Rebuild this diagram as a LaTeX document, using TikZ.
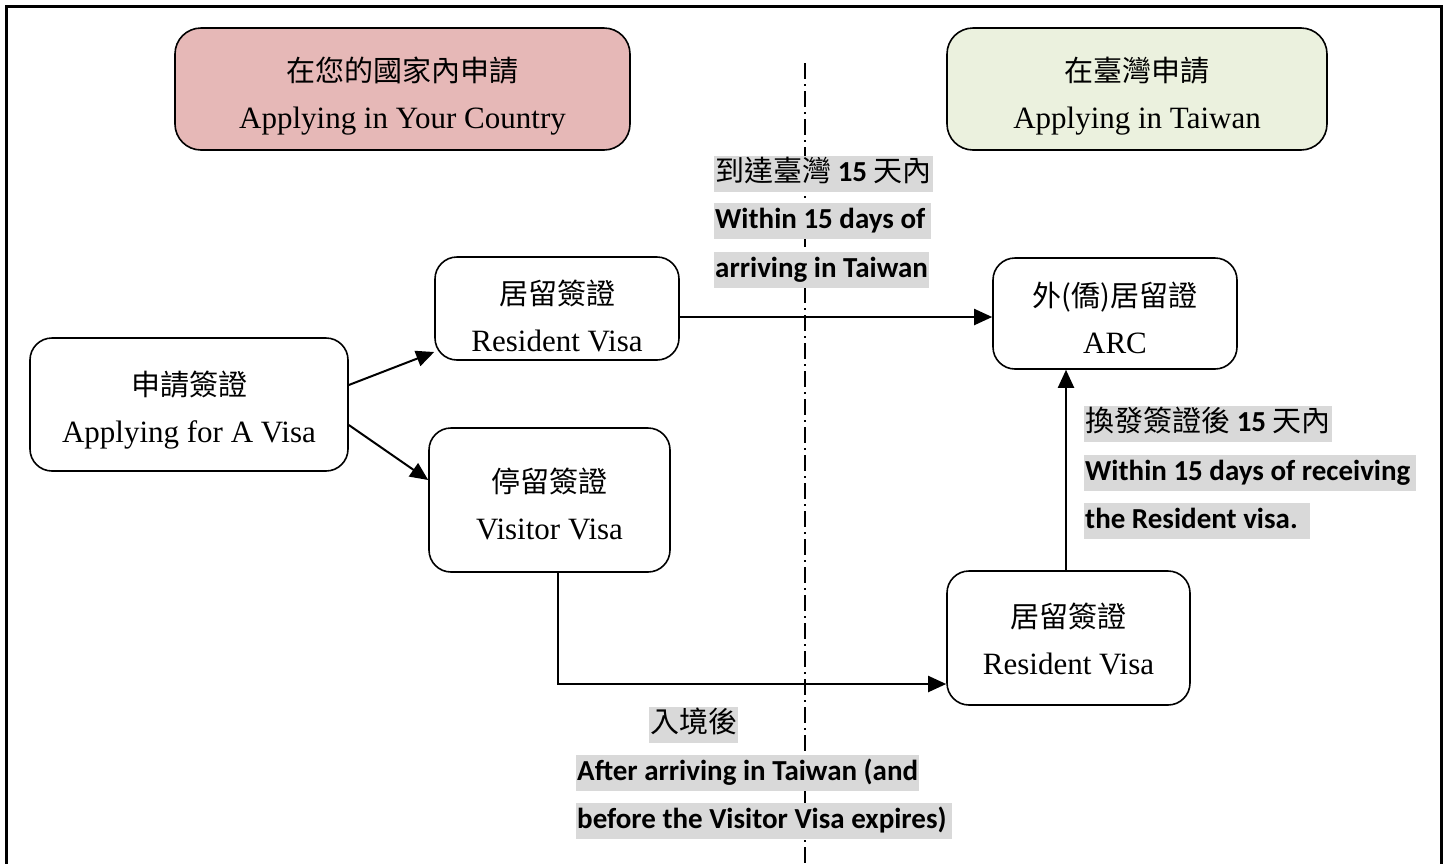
\documentclass[tikz,border=0pt]{standalone}
\usepackage{fontspec}
\setmainfont{Liberation Serif}
\newfontfamily\cjk{Noto Sans CJK TC}
\newfontfamily\lbl{Carlito}
\usetikzlibrary{arrows.meta}
\definecolor{pinkfill}{HTML}{E6B8B7}
\definecolor{greenfill}{HTML}{EBF1DE}
\definecolor{hl}{HTML}{D9D9D9}
\newcommand{\cjkbox}[1]{{\cjk\fontsize{29}{47}\selectfont #1}}
\tikzset{
  box/.style={draw, line width=1.6pt, rounded corners=22pt, inner sep=0pt},
  boxtext/.style={align=center, inner sep=0pt, font=\fontsize{31}{47}\selectfont},
  arr/.style={line width=2pt, -{Triangle[length=18pt,width=16pt]}},
  lab/.style={fill=hl, anchor=west, inner xsep=1pt, inner ysep=0pt, minimum height=36pt,
    text height=22pt, text depth=7pt, font=\lbl\bfseries\fontsize{29}{35}\selectfont},
}
\begin{document}
\begin{tikzpicture}[x=1pt,y=-1pt]
\useasboundingbox (0,0) rectangle (1449,863);
\fill[white] (0,0) rectangle (1449,863);
% frame
\draw[line width=3pt] (6.5,880) -- (6.5,6.5) -- (1441.5,6.5) -- (1441.5,880);
% divider
\draw[line width=1.5pt, dash pattern=on 16pt off 5pt on 2pt off 5pt] (805,63) -- (805,870);
% header boxes
\node[box, fill=pinkfill, rounded corners=26pt, minimum width=455pt, minimum height=122pt] (home) at (402.5,89) {};
\node[boxtext] (home-t) at (402.5,96) {\cjkbox{在您的國家內申請}\\Applying in Your Country};
\node[box, fill=greenfill, rounded corners=26pt, minimum width=380pt, minimum height=122pt] (tw) at (1137,89) {};
\node[boxtext] (tw-t) at (1137,96) {\cjkbox{在臺灣申請}\\Applying in Taiwan};
% flow boxes
\node[box, minimum width=318pt, minimum height=133pt] (app) at (189,404.5) {};
\node[boxtext] (app-t) at (189,410) {\cjkbox{申請簽證}\\Applying for A Visa};
\node[box, minimum width=244pt, minimum height=103pt] (rv1) at (557,308.5) {};
\node[boxtext] (rv1-t) at (557,316) {\cjkbox{居留簽證}\\Resident Visa};
\node[box, minimum width=241pt, minimum height=144pt] (vv) at (549.5,500) {};
\node[boxtext] (vv-t) at (549.5,504) {\cjkbox{停留簽證}\\Visitor Visa};
\node[box, minimum width=244pt, minimum height=111pt] (arc) at (1115,313.5) {};
\node[boxtext] (arc-t) at (1115,318) {\cjkbox{外(僑)居留證}\\ARC};
\node[box, minimum width=243pt, minimum height=134pt] (rv2) at (1068.5,638) {};
\node[boxtext] (rv2-t) at (1068.5,639) {\cjkbox{居留簽證}\\Resident Visa};
% connectors
\draw[arr] ([yshift=19.5pt]app.east) -- ([yshift=-43.5pt]rv1.west);
\draw[arr] ([yshift=-20.5pt]app.east) -- ([yshift=20pt]vv.west);
\draw[arr] ([yshift=-8.5pt]rv1.east) -- ([yshift=-8.5pt]rv1.east -| arc.west);
\draw[arr] ([xshift=8.5pt]vv.south) |- ([yshift=-46pt]rv2.west);
\draw[arr] ([xshift=-2.5pt]rv2.north) -- ([xshift=-2.5pt]rv2.north |- arc.south);
% labels
\node[lab] (a1) at (714,173.5) {{\cjk\mdseries 到達臺灣} 15 {\cjk\mdseries 天內}};
\node[lab] (a2) at (714,220.5) {Within 15 days of\,};
\node[lab] (a3) at (714,269.5) {arriving in Taiwan};
\node[lab] (b1) at (1084,424) {{\cjk\mdseries 換發簽證後} 15 {\cjk\mdseries 天內}};
\node[lab] (b2) at (1084,473) {Within 15 days of receiving\,};
\node[lab] (b3) at (1084,520.5) {the Resident visa.\ \,};
\node[lab] (c1) at (649,725) {{\cjk\mdseries 入境後}};
\node[lab] (c2) at (576,772.5) {After arriving in Taiwan (and};
\node[lab] (c3) at (576,820.5) {before the Visitor Visa expires)\,};
\end{tikzpicture}
\end{document}
